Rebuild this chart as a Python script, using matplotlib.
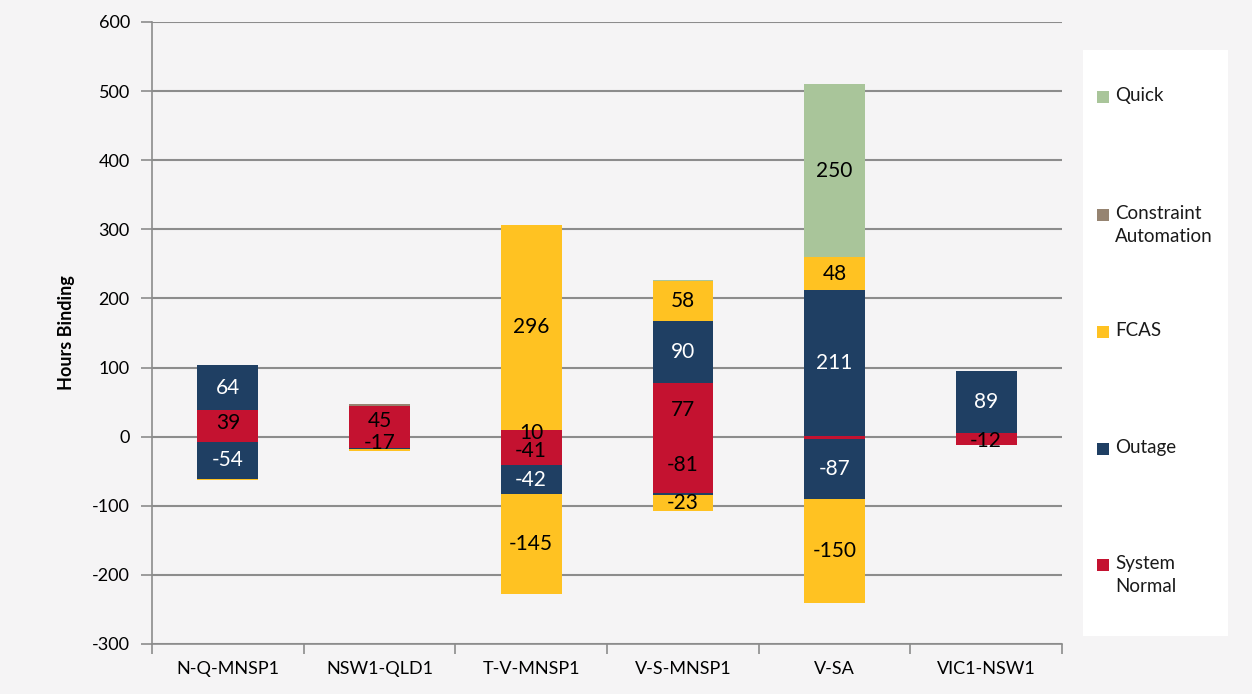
import numpy as np
import matplotlib.pyplot as plt
from matplotlib.patches import Rectangle

plt.rcParams['font.family'] = ['Lato', 'DejaVu Sans']
plt.rcParams['axes.unicode_minus'] = False

# data (hours binding), positive and negative parts per category
categories = ['N-Q-MNSP1', 'NSW1-QLD1', 'T-V-MNSP1', 'V-S-MNSP1', 'V-SA', 'VIC1-NSW1']
series = ['System Normal', 'Outage', 'FCAS', 'Constraint Automation', 'Quick']
colors = ['#C41230', '#1F3F63', '#FFC222', '#968471', '#A9C59A']
text_colors = ['black', 'white', 'black', 'black', 'black']

pos_system_normal = [39, 45, 10, 77, 1, 6]
pos_outage = [64, 0, 0, 90, 211, 89]
pos_fcas = [0, 0, 296, 58, 48, 0]
pos_constraint = [0, 2, 0, 0, 0, 0]
pos_quick = [0, 0, 0, 2, 250, 0]

neg_system_normal = [-7, -17, -41, -81, -3, -12]
neg_outage = [-54, -1, -42, -3, -87, 0]
neg_fcas = [-1, -3, -145, -23, -150, 0]
neg_constraint = [0, 0, 0, 0, 0, 0]
neg_quick = [0, 0, 0, -1, 0, 0]

pos = [pos_system_normal, pos_outage, pos_fcas, pos_constraint, pos_quick]
neg = [neg_system_normal, neg_outage, neg_fcas, neg_constraint, neg_quick]

bg = '#F5F4F5'
W, H = 1252, 694
fig = plt.figure(figsize=(W / 100, H / 100), dpi=100, facecolor=bg)
ax = fig.add_axes([152/W, 1-644/H, (1062-152)/W, (644-22)/H])
ax.set_facecolor(bg)

x = np.arange(len(categories))
width = 0.4

for sign_data in (pos, neg):
    bottom = np.zeros(len(categories))
    for i, vals in enumerate(sign_data):
        vals = np.array(vals, dtype=float)
        ax.bar(x, vals, width, bottom=bottom, color=colors[i], zorder=3, linewidth=0)
        for j, v in enumerate(vals):
            if abs(v) >= 10:
                ax.text(x[j], bottom[j] + v / 2, '%d' % v, ha='center', va='center',
                        fontsize=15, color=text_colors[i], zorder=4)
        bottom = bottom + vals

ax.set_ylim(-300, 600)
ax.set_xlim(-0.5, len(categories) - 0.5)
ax.set_yticks(np.arange(-300, 601, 100))
ax.tick_params(axis='y', labelsize=13, length=8, color='#8C8C8C', width=1.2, pad=8)
ax.set_xticks(x)
ax.set_xticklabels(categories, fontsize=13)
ax.tick_params(axis='x', which='major', length=0, pad=12)
ax.set_xticks(np.arange(-0.5, len(categories), 1), minor=True)
ax.tick_params(axis='x', which='minor', length=7, color='#8C8C8C', width=1.2)
ax.grid(axis='y', color='#8C8C8C', linewidth=1.5, zorder=0)
for s in ['top', 'right']:
    ax.spines[s].set_visible(False)
for s in ['left', 'bottom']:
    ax.spines[s].set_color('#8C8C8C')
    ax.spines[s].set_linewidth(1.2)
ax.set_ylabel('Hours Binding', fontsize=13, fontweight='bold', labelpad=12)

# legend box (white panel with square keys, first line aligned to key)
fig.patches.append(Rectangle((1083/W, 1-636/H), 145/W, 586/H,
                             transform=fig.transFigure, facecolor='white', edgecolor='none'))
labels = ['Quick', 'Constraint\nAutomation', 'FCAS', 'Outage', 'System\nNormal']
key_y = [97, 215, 332, 449, 565]
for lab, c, yy in zip(labels, colors[::-1], key_y):
    fig.patches.append(Rectangle((1097/W, 1-(yy+6)/H), 12/W, 12/H,
                                 transform=fig.transFigure, facecolor=c, edgecolor='none'))
    fig.text(1115/W, 1-(yy-10)/H, lab, fontsize=13.5, va='top', ha='left',
             linespacing=1.45, color='#1a1a1a')

plt.savefig('out.png', dpi=100, facecolor=bg)
